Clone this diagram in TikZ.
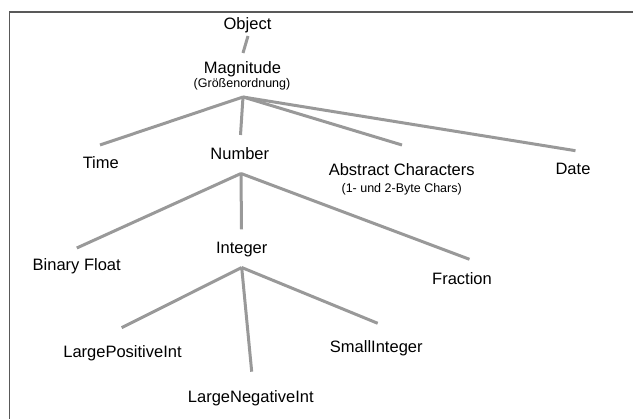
\documentclass[tikz,border=0pt]{standalone}
\usepackage{fontspec}
\setmainfont{Liberation Sans}
\begin{document}
\begin{tikzpicture}[x=1pt,y=-1pt,
  lbl/.style={anchor=base, inner sep=0pt, font=\fontsize{16.5}{18}\selectfont},
  sub/.style={anchor=base, inner sep=0pt, font=\fontsize{12.5}{14}\selectfont},
  branch/.style={draw=black!40, line width=3pt},
  frame/.style={draw=black!65, line width=1.5pt}]
\useasboundingbox (0,0) rectangle (633,419);
% open frame: top and left edges only
\draw[frame] (9.5,419) -- (9.5,12) -- (633,12);

% class names
\node[lbl] (object) at (247.5,30) {Object};
\node[lbl] (magnitude) at (242.5,74) {Magnitude};
\node[sub] (magnote) at (242,87.5) {(Größenordnung)};
\node[lbl] (time) at (100.8,169) {Time};
\node[lbl] (number) at (239.8,159.5) {Number};
\node[lbl] (abstract) at (401.7,176) {Abstract Characters};
\node[sub] (absnote) at (401.7,192.4) {(1- und 2-Byte Chars)};
\node[lbl] (date) at (573,174.5) {Date};
\node[lbl] (binfloat) at (76.7,270.5) {Binary Float};
\node[lbl] (integer) at (241.7,254) {Integer};
\node[lbl] (fraction) at (462,285) {Fraction};
\node[lbl] (lpi) at (122.5,358) {LargePositiveInt};
\node[lbl] (lni) at (250.8,403) {LargeNegativeInt};
\node[lbl] (smallint) at (376.3,353) {SmallInteger};

% branch points below each parent and line ends above each child
\coordinate (object-foot) at (248,36);
\coordinate (magnitude-top) at (243,53);
\coordinate (magnitude-hub) at (243,97);
\coordinate (time-top) at (100,145);
\coordinate (number-top) at (240.5,135);
\coordinate (abstract-top) at (402,145);
\coordinate (date-top) at (575.5,150.7);
\coordinate (number-hub) at (241,173.5);
\coordinate (binfloat-top) at (76.8,248);
\coordinate (integer-top) at (241.5,229.3);
\coordinate (fraction-top) at (469.5,259.3);
\coordinate (integer-hub) at (241.7,267.5);
\coordinate (lpi-top) at (121.7,327.7);
\coordinate (lni-top) at (251.7,371.7);
\coordinate (smallint-top) at (377.7,323.3);

% inheritance links
\draw[branch] (object-foot) -- (magnitude-top);
\draw[branch] (magnitude-hub) -- (time-top);
\draw[branch] (magnitude-hub) -- (number-top);
\draw[branch] (magnitude-hub) -- (abstract-top);
\draw[branch] (magnitude-hub) -- (date-top);
\draw[branch] (number-hub) -- (binfloat-top);
\draw[branch] (number-hub) -- (integer-top);
\draw[branch] (number-hub) -- (fraction-top);
\draw[branch] (integer-hub) -- (lpi-top);
\draw[branch] (integer-hub) -- (lni-top);
\draw[branch] (integer-hub) -- (smallint-top);
\end{tikzpicture}
\end{document}
